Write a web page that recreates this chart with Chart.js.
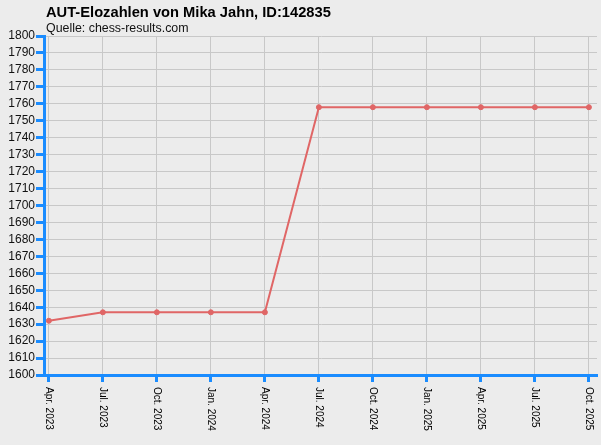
<!DOCTYPE html>
<html>
<head>
<meta charset="utf-8">
<script src="https://cdn.jsdelivr.net/npm/chart.js@4"></script>
<style>
html,body{margin:0;padding:0;background:#ececec;}
#wrap{width:601px;height:445px;}
</style>
</head>
<body>
<div id="wrap"><canvas id="c" width="601" height="445"></canvas></div>
<script>
const categories = ["Apr. 2023","Jul. 2023","Oct. 2023","Jan. 2024","Apr. 2024","Jul. 2024","Oct. 2024","Jan. 2025","Apr. 2025","Jul. 2025","Oct. 2025"];
const elo = [1632,1637,1637,1637,1637,1758,1758,1758,1758,1758,1758];
const titleText = "AUT-Elozahlen von Mika Jahn, ID:142835";
const subtitleText = "Quelle: chess-results.com";
const yMin = 1600, yMax = 1800, yStep = 10;

const blue = "#1a8cff";

const textPlugin = {
  id: 'texts',
  afterDraw(chart) {
    const ctx = chart.ctx;
    const area = chart.chartArea;
    const xs = chart.scales.x;
    ctx.save();
    ctx.fillStyle = "#000";
    ctx.textBaseline = "alphabetic";
    ctx.textAlign = "left";
    ctx.font = "bold 14.7px 'Liberation Sans', Arial, sans-serif";
    ctx.fillText(titleText, area.left + 2, 17);
    ctx.font = "12.4px 'Liberation Sans', Arial, sans-serif";
    ctx.fillStyle = "#111";
    ctx.fillText(subtitleText, area.left + 2, 32);
    // rotated x labels (reading top to bottom)
    ctx.font = "10px 'Liberation Sans', Arial, sans-serif";
    ctx.fillStyle = "#000";
    categories.forEach((lab, i) => {
      const x = xs.getPixelForValue(i);
      ctx.save();
      ctx.translate(x, area.bottom + 12);
      ctx.rotate(Math.PI / 2);
      ctx.textAlign = "left";
      ctx.textBaseline = "middle";
      ctx.fillText(lab, 0, 0);
      ctx.restore();
    });
    ctx.restore();
  }
};

const bgPlugin = {
  id: 'bg',
  beforeDraw(chart) {
    const ctx = chart.ctx;
    ctx.save();
    ctx.fillStyle = "#ececec";
    ctx.fillRect(0, 0, chart.width, chart.height);
    ctx.restore();
  }
};

new Chart(document.getElementById('c'), {
  type: 'line',
  data: {
    datasets: [{
      data: elo.map((v, i) => ({x: i, y: v})),
      borderColor: "#e06666",
      backgroundColor: "#e06666",
      borderWidth: 2,
      pointRadius: 2.5,
      pointHoverRadius: 2.5,
      pointBorderWidth: 1,
      tension: 0,
      fill: false
    }]
  },
  options: {
    responsive: false,
    devicePixelRatio: 1,
    animation: false,
    events: [],
    layout: { padding: { top: 36, right: 4, left: 0, bottom: 0 } },
    plugins: { legend: { display: false }, tooltip: { enabled: false }, title: { display: false } },
    scales: {
      x: {
        type: 'linear',
        min: -0.09,
        max: 10.15,
        afterBuildTicks(scale) { scale.ticks = categories.map((_, i) => ({value: i})); },
        afterFit(scale) { scale.height = 70; },
        ticks: { display: false },
        grid: { color: "#c8c8c8", lineWidth: 1, drawTicks: true, tickLength: 7, tickColor: blue, tickWidth: 3 },
        border: { color: blue, width: 3 }
      },
      y: {
        min: yMin,
        max: yMax,
        afterFit(scale) { scale.width = 44; },
        ticks: { stepSize: yStep, color: "#111", font: { family: "'Liberation Sans', Arial, sans-serif", size: 12 }, padding: 1, autoSkip: false, callback: v => String(v) },
        grid: { color: "#c8c8c8", lineWidth: 1, drawTicks: true, tickLength: 8, tickColor: blue, tickWidth: 3 },
        border: { color: blue, width: 3 }
      }
    }
  },
  plugins: [bgPlugin, textPlugin]
});
</script>
</body>
</html>
